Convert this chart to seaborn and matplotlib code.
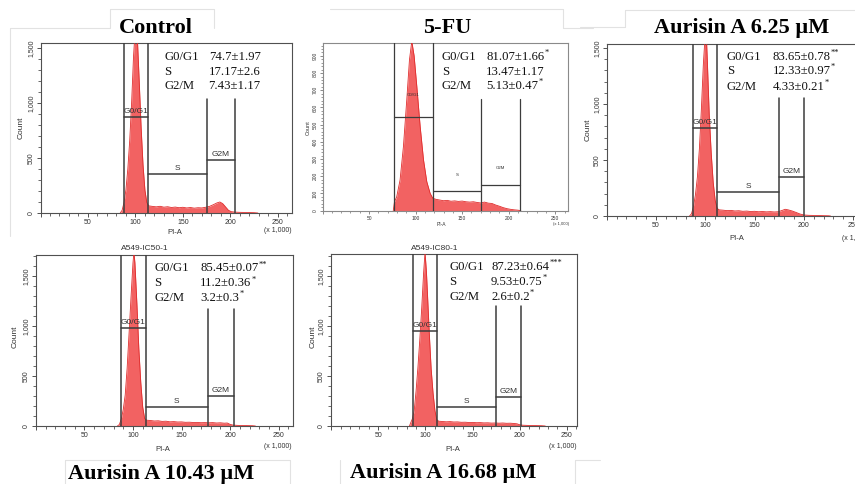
import numpy as np
import pandas as pd
import matplotlib
matplotlib.use("Agg")
import matplotlib.pyplot as plt
import seaborn as sns
from matplotlib.ticker import MultipleLocator, FuncFormatter

sns.set_theme(style="white")
plt.rcParams['font.family'] = ['Liberation Sans', 'DejaVu Sans']

# ---------------- data ----------------
titles = ["Control", "5-FU", "Aurisin A 6.25 µM", "Aurisin A 10.43 µM", "Aurisin A 16.68 µM"]
phases = ["G0/G1", "S", "G2/M"]
gate_names = ["G0/G1", "S", "G2M"]
sample_names = ["", "", "", "A549-IC50-1", "A549-IC80-1"]

control_x = [84, 86, 88, 90, 92, 94, 96, 98, 100, 101, 102, 104, 106, 108, 110, 112, 114, 118, 122, 126, 130,
             134, 138, 142, 146, 150, 154, 158, 162, 166, 170, 174, 178, 182, 186, 189, 192, 195, 198, 201,
             205, 210, 215, 220, 225, 229]
control_y = [0, 25, 95, 210, 400, 660, 1000, 1420, 1700, 1740, 1600, 1200, 780, 440, 210, 95, 65, 60, 56, 61,
             53, 57, 50, 54, 48, 52, 46, 50, 44, 48, 46, 52, 60, 75, 92, 100, 85, 55, 25, 12, 8, 6, 5, 4, 3, 0]

fu_x = [76, 77.3, 79.7, 83.3, 86.9, 90.5, 93.4, 95.9, 98.4, 101.3, 104.9, 108.5, 112, 115.6, 118.5, 122, 126,
        130, 134, 138, 142, 146, 150, 154, 158, 162, 166, 170, 174, 178, 182, 186, 190, 194, 198, 202, 206, 210, 213]
fu_y = [0, 52, 81, 178, 372, 644, 877, 985, 900, 722, 489, 295, 169, 101, 72, 66, 62, 58, 60, 55, 57, 54, 56,
        52, 50, 52, 48, 45, 50, 44, 42, 33, 26, 18, 12, 8, 5, 3, 0]

a625_x = [84, 86, 88, 90, 92, 94, 96, 98, 100, 101, 102, 104, 106, 108, 110, 112, 114, 118, 122, 126, 130, 134,
          138, 142, 146, 150, 154, 158, 162, 166, 170, 174, 178, 181, 184, 188, 192, 196, 200, 205, 210, 215,
          220, 225, 227]
a625_y = [0, 20, 85, 190, 350, 600, 950, 1350, 1640, 1620, 1400, 900, 560, 300, 140, 68, 55, 52, 48, 50, 45,
          47, 42, 44, 40, 42, 38, 40, 37, 39, 36, 38, 50, 60, 55, 45, 32, 18, 9, 6, 5, 4, 3, 2, 0]

a1043_x = [84, 86, 88, 90, 92, 94, 96, 98, 100, 101, 102, 104, 106, 108, 110, 112, 114, 118, 122, 126, 130, 134,
           138, 142, 146, 150, 154, 158, 162, 166, 170, 174, 178, 182, 186, 190, 194, 197, 200, 203, 208, 213,
           218, 223, 226]
a1043_y = [0, 15, 70, 165, 310, 580, 930, 1290, 1630, 1740, 1630, 1230, 780, 440, 190, 75, 58, 55, 50, 52, 46,
           48, 42, 44, 40, 41, 37, 38, 35, 36, 33, 34, 32, 34, 30, 32, 28, 30, 16, 9, 6, 5, 4, 3, 0]

a1668_x = [83, 84, 86, 88, 90, 92, 94, 96, 98, 99.5, 101, 102, 104, 106, 108, 110, 112, 114, 118, 122, 126, 130,
           134, 138, 142, 146, 150, 154, 158, 162, 166, 170, 174, 178, 182, 186, 190, 194, 197, 200, 203, 208,
           213, 218, 223, 227]
a1668_y = [0, 25, 70, 150, 350, 590, 870, 1180, 1530, 1740, 1540, 1340, 930, 570, 330, 155, 62, 48, 45, 42, 44,
           40, 41, 37, 38, 35, 36, 33, 34, 31, 32, 29, 30, 28, 30, 27, 28, 25, 22, 12, 8, 6, 5, 4, 3, 0]

control_vals = ["74.7±1.97", "17.17±2.6", "7.43±1.17"]
control_sig = ["", "", ""]
fu_vals = ["81.07±1.66", "13.47±1.17", "5.13±0.47"]
fu_sig = ["*", "", "*"]
a625_vals = ["83.65±0.78", "12.33±0.97", "4.33±0.21"]
a625_sig = ["**", "*", "*"]
a1043_vals = ["85.45±0.07", "11.2±0.36", "3.2±0.3"]
a1043_sig = ["**", "*", "*"]
a1668_vals = ["87.23±0.64", "9.53±0.75", "2.6±0.2"]
a1668_sig = ["***", "*", "*"]

# gate boundaries (PI-A x1000) and marker heights (count)
control_gates = [88, 113, 175, 205];     control_gate_h = [873, 355, 480, 1036]
fu_gates = [77, 118.5, 170, 212];        fu_gate_h = [546, 116, 149, 649]
a625_gates = [87.2, 111.9, 174.7, 200.1]; a625_gate_h = [788, 211, 351, 1056]
a1043_gates = [87.5, 112.9, 176.8, 204.3]; a1043_gate_h = [977, 193, 303, 1167]
a1668_gates = [87.2, 112, 174.6, 201.5];  a1668_gate_h = [950, 187, 293, 1203]

# ---------------- layout ----------------
W, H = 855, 484
fig = plt.figure(figsize=(W / 100, H / 100), dpi=100)
fig.patch.set_facecolor("white")

def fx(x):
    return x / W

def fy(y):
    return 1 - y / H

panels = [
    dict(x=control_x, y=control_y, vals=control_vals, sig=control_sig, gates=control_gates, gh=control_gate_h,
         rect=(40.5, 43, 292, 213), xlim=265, ylim=1545, ymaj=500, ymin=100, small=False, goff=(1.5, 1.5, 1.5),
         title_xy=(155.5, 32.7), lab_x=164, val_x=260.5, val_ha='right', rows=(57, 72, 86.5),
         count_xy=(21, 128), pia_xy=(175, 233), x1000_xy=(278, 230)),
    dict(x=fu_x, y=fu_y, vals=fu_vals, sig=fu_sig, gates=fu_gates, gh=fu_gate_h,
         rect=(322.5, 43.3, 568.3, 210.7), xlim=264, ylim=973, ymaj=100, ymin=20, small=True, goff=(14, 10, 11),
         title_xy=(447.5, 33.3), lab_x=441.7, val_x=486, val_ha='left', rows=(57, 72, 86),
         count_xy=(308, 128), pia_xy=(441.7, 225), x1000_xy=(561, 224.5)),
    dict(x=a625_x, y=a625_y, vals=a625_vals, sig=a625_sig, gates=a625_gates, gh=a625_gate_h,
         rect=(606.7, 44, 867, 216), xlim=264, ylim=1536, ymaj=500, ymin=100, small=False, goff=(1.5, 1.5, 1.5),
         title_xy=(741.7, 33), lab_x=726.7, val_x=772.5, val_ha='left', rows=(56.7, 71, 87),
         count_xy=(588.3, 130), pia_xy=(736.7, 238), x1000_xy=(856, 238)),
    dict(x=a1043_x, y=a1043_y, vals=a1043_vals, sig=a1043_sig, gates=a1043_gates, gh=a1043_gate_h,
         rect=(35.8, 255, 293.3, 426), xlim=265, ylim=1710, ymaj=500, ymin=100, small=False, goff=(1.5, 1.5, 1.5),
         title_xy=(160.8, 479.3), lab_x=154, val_x=200, val_ha='left', rows=(268.3, 283.3, 297.7),
         count_xy=(15, 336.7), pia_xy=(163, 449.3), x1000_xy=(277.7, 446.7)),
    dict(x=a1668_x, y=a1668_y, vals=a1668_vals, sig=a1668_sig, gates=a1668_gates, gh=a1668_gate_h,
         rect=(331.2, 254.3, 577.3, 426), xlim=261, ylim=1717, ymaj=500, ymin=100, small=False, goff=(1.5, 1.5, 1.5),
         title_xy=(443.3, 478.3), lab_x=449.3, val_x=491, val_ha='left', rows=(266.7, 281.7, 296.7),
         count_xy=(313.3, 336.7), pia_xy=(453.3, 449.3), x1000_xy=(563.3, 447)),
]

# faint image-panel borders from the original composite
faint = "#e2e2e2"
border_lines = [
    [(10, 28), (10, 236)], [(10, 28), (110, 28)], [(110, 9), (214, 9)], [(110, 9), (110, 28)], [(214, 9), (214, 28)],
    [(330, 9), (563, 9)], [(563, 9), (563, 28)], [(563, 28), (593, 28)],
    [(625, 10), (855, 10)], [(625, 10), (625, 27)], [(580, 27), (625, 27)],
    [(65, 460), (65, 484)], [(65, 460), (290, 460)], [(290, 460), (290, 484)],
    [(340, 460), (340, 484)], [(575, 460), (575, 484)], [(575, 460), (600, 460)],
]
for (x0, y0), (x1, y1) in border_lines:
    fig.add_artist(plt.Line2D([fx(x0), fx(x1)], [fy(y0), fy(y1)], color=faint, lw=0.8, transform=fig.transFigure))

fill_col = "#f26262"
edge_col = "#e02c2c"
gate_col = "#3c3c3c"

for i, p in enumerate(panels):
    l, t, r, b = p["rect"]
    ax = fig.add_axes([fx(l), fy(b), fx(r - l), (b - t) / H])
    ax.set_facecolor("white")
    small = p["small"]
    frame_col = "#8a8a8a" if small else "#505050"
    for s in ax.spines.values():
        s.set_color(frame_col)
        s.set_linewidth(0.8)

    df = pd.DataFrame({"PI-A": p["x"], "Count": p["y"]})
    ax.fill_between(df["PI-A"], df["Count"], 0, color=fill_col, lw=0, zorder=2)
    sns.lineplot(data=df, x="PI-A", y="Count", ax=ax, color=edge_col, lw=0.6, sort=False, zorder=3)

    # gates
    g = p["gates"]
    gh = p["gh"]
    ytop = p["ylim"] * 1.05
    lw = 0.9 if small else 1.1
    ax.plot([g[0], g[0]], [0, ytop], color=gate_col, lw=lw, zorder=4, clip_on=True)
    ax.plot([g[1], g[1]], [0, ytop], color=gate_col, lw=lw, zorder=4, clip_on=True)
    ax.plot([g[2], g[2]], [0, gh[3]], color=gate_col, lw=lw, zorder=4)
    ax.plot([g[3], g[3]], [0, gh[3]], color=gate_col, lw=lw, zorder=4)
    gfs = 3.2 if small else 6
    for k in range(3):
        x0, x1 = g[k], g[k + 1]
        ax.plot([x0, x1], [gh[k], gh[k]], color=gate_col, lw=lw, zorder=4)
        ax.annotate(gate_names[k], xy=((x0 + x1) / 2, gh[k]), xytext=(0, p["goff"][k]), textcoords="offset points",
                    ha="center", va="bottom", fontsize=gfs, color="#333333", zorder=5)

    ax.set_xlim(0, p["xlim"])
    ax.set_ylim(0, p["ylim"])
    ax.xaxis.set_major_locator(MultipleLocator(50))
    ax.xaxis.set_minor_locator(MultipleLocator(10))
    ax.yaxis.set_major_locator(MultipleLocator(p["ymaj"]))
    ax.yaxis.set_minor_locator(MultipleLocator(p["ymin"]))
    ax.xaxis.set_major_formatter(FuncFormatter(lambda v, pos: "" if v == 0 else f"{int(v)}"))
    ax.yaxis.set_major_formatter(FuncFormatter(lambda v, pos: f"{int(v):,}"))
    tfs = 3.5 if small else 5
    ax.tick_params(axis="both", which="both", direction="out", colors=frame_col, labelcolor="#333333",
                   bottom=True, left=True, top=False, right=False)
    ax.tick_params(axis="both", which="major", length=3 if not small else 2, width=0.7, labelsize=tfs, pad=1.5)
    ax.tick_params(axis="both", which="minor", length=2 if not small else 1.5, width=0.6)
    for lab in ax.get_yticklabels():
        lab.set_rotation(90)
        lab.set_va("center")
    ax.set_xlabel("")
    ax.set_ylabel("")

    afs = 4 if small else 6
    cx, cy = p["count_xy"]
    fig.text(fx(cx), fy(cy), "Count", rotation=90, ha="center", va="center", fontsize=afs, color="#333333")
    px_, py_ = p["pia_xy"]
    fig.text(fx(px_), fy(py_), "PI-A", ha="center", va="center", fontsize=afs - 0.5, color="#333333")
    kx, ky = p["x1000_xy"]
    fig.text(fx(kx), fy(ky), "(x 1,000)", ha="center", va="center", fontsize=tfs - (0.5 if small else 0),
             color="#333333")

    if sample_names[i]:
        fig.text(fx((l + r) / 2 - 20), fy(249), sample_names[i], ha="center", va="center",
                 fontsize=6, color="#333333")

    # title
    tx, ty = p["title_xy"]
    fig.text(fx(tx), fy(ty), titles[i], ha="center", va="baseline", fontsize=16, fontweight="bold",
             family=["Liberation Serif", "DejaVu Serif"], color="black")

    # statistics
    for k in range(3):
        yy = p["rows"][k]
        fig.text(fx(p["lab_x"]), fy(yy), phases[k], ha="left", va="center", fontsize=9.2,
                 family=["Liberation Serif", "DejaVu Serif"], color="#111111")
        tv = ax.text(fx(p["val_x"]), fy(yy), p["vals"][k], ha=p["val_ha"], va="center", fontsize=9.2,
                     family=["Liberation Serif", "DejaVu Serif"], color="#111111", transform=fig.transFigure)
        if p["sig"][k]:
            ax.annotate(p["sig"][k], xy=(1, 0.82), xycoords=tv, xytext=(0.3, 0), textcoords="offset points",
                        ha="left", va="center", fontsize=6, family=["Liberation Serif", "DejaVu Serif"],
                        color="#111111", annotation_clip=False)

fig.savefig("out.png", dpi=100, facecolor="white")
